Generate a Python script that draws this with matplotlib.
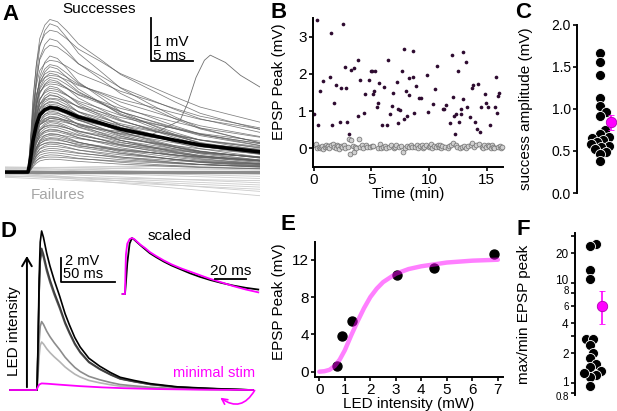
import numpy as np
import matplotlib
matplotlib.use("Agg")
import matplotlib.pyplot as plt
from matplotlib.ticker import FixedLocator, FixedFormatter, NullFormatter
from matplotlib.transforms import ScaledTranslation

# ── data ─────────────────────────────────────────────────────────────────────
# A: mean success trace (ms, mV), per-trace success amplitudes / decay, failure drifts
a_t    = [-2.7, 0.0, 0.3, 0.6, 1.0, 1.4, 2.0, 2.6, 3.5, 4.6, 6.0, 8.6, 11.0, 14.5, 17.5, 20.5, 24.0, 27.6]
a_mean = [0, 0, 0.3, 0.74, 1.1, 1.33, 1.45, 1.5, 1.48, 1.4, 1.28, 1.14, 1.0, 0.86, 0.74, 0.63, 0.55, 0.47]
a_amps = [3.55, 3.45, 3.3, 3.1, 2.95, 2.7, 2.6, 2.5, 2.45, 2.35, 2.3, 2.25, 2.2, 2.15, 2.1,
          2.05, 2.0, 1.95, 1.9, 1.85, 1.8, 1.78, 1.72, 1.7, 1.65, 1.62, 1.58, 1.55, 1.5, 1.48,
          1.45, 1.42, 1.38, 1.35, 1.3, 1.28, 1.25, 1.2, 1.18, 1.15, 1.1, 1.08, 1.05, 1.0, 0.98,
          0.95, 0.9, 0.88, 0.85, 0.8, 0.78, 0.75, 0.7, 0.68, 0.65, 0.6, 0.55, 0.5, 0.45, 0.4,
          0.35, 0.3]
a_decay = [1.1, 1.4, 0.9, 1.3, 1.0, 1.6, 0.8, 1.2, 1.5, 0.9, 1.3, 0.7, 1.1, 1.4, 1.0,
           0.8, 1.5, 1.2, 0.9, 1.3, 1.6, 1.0, 0.75, 1.2, 1.4, 0.9, 1.1, 1.5, 0.8, 1.3,
           1.0, 1.6, 0.85, 1.2, 1.4, 0.9, 1.1, 0.7, 1.3, 1.5, 1.0, 0.8, 1.2, 1.4, 0.9,
           1.1, 1.6, 0.8, 1.3, 1.0, 1.4, 0.9, 1.2, 0.75, 1.5, 1.0, 1.3, 0.9, 1.1, 1.4,
           0.8, 1.2]
a_extra_t = [-2.7, 0, 0.6, 1.4, 2.6, 4.6, 8.6, 14.5, 18.1, 19.0, 20.0, 21.0, 21.7, 23.5, 25.3, 27.6]
a_extra_v = [0, 0, 0.6, 1.1, 1.25, 1.2, 1.0, 0.85, 1.2, 1.6, 2.2, 2.6, 2.72, 2.55, 2.25, 1.98]
a_fail_start = [0.1, 0.05, -0.05, 0.0, -0.1, 0.08, -0.02, 0.12, -0.08, 0.03, -0.12, 0.06, 0.0, -0.04, 0.1]
a_fail_end   = [0.15, -0.1, -0.3, -0.45, -0.2, 0.2, -0.55, 0.05, -0.35, -0.15, -0.4, 0.1, -0.25, 0.25, -0.05]

# B: EPSP peaks over time
succ_t = [0.0, 0.3, 0.37, 0.55, 0.84, 1.38, 1.47, 1.61, 1.81, 1.9, 2.27, 2.38, 2.56, 2.76, 2.84,
          2.9, 3.04, 3.28, 3.53, 3.81, 3.82, 4.0, 4.33, 4.45, 4.77, 4.97, 5.1, 5.3, 5.12, 5.26,
          5.45, 5.54, 5.63, 5.92, 6.12, 6.4, 6.41, 6.6, 6.78, 6.87, 7.21, 7.27, 7.3, 7.5, 7.64,
          7.79, 7.87, 8.02, 8.07, 8.22, 8.3, 8.6, 8.65, 8.71, 8.88, 9.16, 9.28, 9.8, 9.89, 10.37,
          10.5, 10.66, 11.2, 11.3, 11.5, 11.83, 12.0, 12.1, 12.16, 12.24, 12.3, 12.5, 12.6, 12.76, 12.8,
          12.9, 12.96, 13.16, 13.3, 13.5, 13.68, 13.82, 13.97, 14.16, 14.2, 14.4, 14.46, 14.83, 14.9, 15.06,
          15.26, 15.7, 15.8, 15.86, 16.0, 16.06]
succ_v = [0.91, 3.44, 0.64, 1.54, 1.82, 1.91, 3.10, 0.62, 1.22, 1.71, 0.70, 1.62, 3.33, 2.19, 1.61,
          0.70, 0.38, 2.10, 2.16, 0.88, 2.36, 1.83, 0.96, 1.45, 1.83, 2.09, 2.09, 2.09, 1.47, 1.54,
          1.12, 1.22, 1.75, 0.62, 1.65, 0.62, 2.38, 0.93, 1.13, 1.49, 1.78, 1.07, 0.69, 1.04, 2.09,
          2.67, 0.80, 1.54, 0.87, 1.88, 1.42, 1.91, 2.62, 0.96, 1.67, 1.34, 1.34, 1.98, 0.97, 1.20,
          1.60, 2.20, 1.05, 1.06, 1.16, 0.69, 2.52, 1.37, 0.88, 0.39, 0.91, 2.09, 0.70, 1.07, 0.91,
          2.58, 1.33, 2.32, 1.11, 0.85, 1.63, 1.69, 0.70, 0.51, 1.74, 0.44, 1.11, 1.45, 1.21, 1.12,
          0.62, 1.12, 1.91, 0.94, 1.40, 1.49]
fail_t = [0.1, 0.2, 0.3, 0.45, 0.55, 0.65, 0.75, 0.85, 0.95, 1.05,
          1.15, 1.25, 1.35, 1.5, 1.7, 1.8, 1.9, 2.0, 2.1, 2.2,
          2.35, 2.45, 2.6, 2.7, 3.0, 3.1, 3.13, 3.2, 3.4, 3.53,
          3.6, 3.7, 3.94, 4.05, 4.15, 4.25, 4.55, 4.65, 4.9, 5.05,
          5.15, 5.6, 5.75, 5.85, 6.0, 6.2, 6.3, 6.5, 6.7, 6.95,
          7.05, 7.15, 7.4, 7.55, 7.73, 7.95, 8.1, 8.25, 8.4, 8.5,
          8.8, 8.95, 9.05, 9.2, 9.35, 9.45, 9.6, 9.7, 9.95, 10.05,
          10.15, 10.25, 10.45, 10.6, 10.75, 10.85, 10.95, 11.05, 11.15, 11.4,
          11.6, 11.7, 11.9, 12.05, 12.35, 12.45, 12.65, 12.85, 13.05, 13.2,
          13.4, 13.6, 13.75, 13.9, 14.05, 14.3, 14.55, 14.65, 14.75, 14.95,
          15.1, 15.2, 15.35, 15.45, 15.55, 15.65, 15.95, 16.1, 16.2, 16.35]
fail_v = [0.08, 0.12, 0.02, 0.05, 0.0, 0.03, 0.06, -0.02, 0.04, 0.1,
          0.05, 0.07, 0.0, 0.09, 0.12, 0.04, 0.02, 0.08, 0.06, -0.01,
          0.07, 0.03, 0.1, 0.0, 0.04, 0.26, -0.16, 0.22, 0.06, -0.1,
          0.05, 0.0, 0.26, 0.04, 0.08, 0.02, 0.1, 0.05, 0.03, 0.07,
          0.06, 0.02, 0.12, 0.0, 0.04, 0.07, 0.02, 0.05, 0.1, 0.0,
          0.04, 0.08, 0.03, 0.06, -0.1, 0.02, 0.07, 0.04, 0.1, 0.05,
          0.03, 0.08, 0.0, 0.06, 0.1, 0.02, 0.05, 0.09, 0.04, 0.07,
          0.12, 0.0, 0.06, 0.03, 0.08, 0.05, 0.1, 0.02, 0.07, 0.04,
          0.0, 0.06, 0.1, 0.15, 0.1, 0.05, 0.0, 0.04, 0.07, 0.02,
          0.06, 0.1, 0.14, 0.03, 0.08, 0.12, 0.05, 0.0, 0.08, 0.04,
          0.1, 0.06, 0.02, 0.08, 0.05, 0.0, 0.04, 0.07, 0.02, 0.03]

# C: success amplitude per cell, mean +- sem
c_vals = [1.67, 1.56, 1.41, 1.13, 1.03, 0.96, 0.92, 0.75, 0.70, 0.67, 0.66, 0.63,
          0.61, 0.58, 0.56, 0.55, 0.52, 0.49, 0.47, 0.38]
c_mean, c_sem = 0.84, 0.09

# D: evoked EPSPs at increasing LED intensity (ms, normalised), minimal stim (mV)
d_t     = [-25, 0, 1, 2, 3, 4.3, 6, 9, 12, 16, 21, 26, 30, 35, 40, 48, 58, 68, 77, 90, 105, 130, 160, 200]
d_shape = [0, 0, 0.3, 0.7, 0.93, 1.0, 0.96, 0.86, 0.78, 0.69, 0.59, 0.48, 0.41, 0.33, 0.27, 0.2,
           0.15, 0.11, 0.08, 0.06, 0.04, 0.02, 0.01, 0.0]
d_amps   = [4.0, 5.7, 11.5, 11.8, 13.25]
d_colors = ["#b4b4b4", "#8c8c8c", "#5a5a5a", "#3c3c3c", "#000000"]
d_min_t = [-25, -0.5, 0, 2, 4.3, 10, 20, 40, 60, 80, 110, 150, 200]
d_min_v = [0, 0, 0.1, 0.45, 0.55, 0.52, 0.45, 0.32, 0.22, 0.15, 0.08, 0.03, 0.0]
# D inset: peak-scaled traces
ins_t   = [-1.5, 0, 0.6, 1.5, 3, 4.5, 6, 8, 10, 13, 16, 20, 25, 30, 36, 42, 48, 55, 62, 70, 78, 86]
ins_blk = [0, 0, 0.2, 0.55, 0.9, 1.0, 0.97, 0.92, 0.87, 0.8, 0.73, 0.66, 0.58, 0.51, 0.44, 0.37,
           0.31, 0.25, 0.2, 0.15, 0.11, 0.08]
ins_mag = [0, 0, 0.7, 0.9, 0.98, 1.0, 0.98, 0.93, 0.88, 0.82, 0.75, 0.68, 0.6, 0.53, 0.46, 0.4,
           0.34, 0.27, 0.21, 0.14, 0.08, 0.03]

# E: input-output curve
e_led  = [0.68, 0.88, 1.27, 3.04, 4.51, 6.85]
e_peak = [0.61, 3.83, 5.48, 10.35, 11.1, 12.64]
e_fit_x = [0, 0.2, 0.4, 0.6, 0.8, 1.0, 1.25, 1.5, 1.75, 2.0, 2.25, 2.5, 3.0, 3.5, 4.0, 5.0, 6.0, 7.0]
e_fit_y = [0.0, 0.05, 0.2, 0.6, 1.3, 2.3, 3.9, 5.4, 6.8, 8.0, 8.9, 9.6, 10.5, 11.0, 11.3, 11.7, 11.9, 12.0]

# F: max/min EPSP peak ratio per cell
f_vals = [24.6, 23.5, 13.6, 11.0, 2.8, 2.75, 2.4, 2.01, 1.77, 1.55, 1.46, 1.33, 1.2, 1.16, 1.25, 0.93]
f_mean, f_lo, f_hi = 6.0, 3.9, 8.4
f_ticks  = [0.8, 1, 2, 4, 6, 8, 10, 20]
f_labels = ["0.8", "1", "2", "4", "6", "8", "10", "20"]

MAG = "#ff00ff"
W, H = 617, 411
plt.rcParams['font.family'] = ['Liberation Sans', 'DejaVu Sans']
fig = plt.figure(figsize=(W / 100, H / 100), dpi=100)


def px_axes(l, t, r, b):
    return fig.add_axes([l / W, 1 - b / H, (r - l) / W, (b - t) / H])


def px_text(x, y, s, **kw):
    fig.text(x / W, 1 - y / H, s, **kw)


def style(ax, fs):
    for side in ("top", "right"):
        ax.spines[side].set_visible(False)
    for side in ("left", "bottom"):
        ax.spines[side].set_linewidth(1.4)
    ax.tick_params(direction="out", length=3, width=1.2, labelsize=fs, pad=1.5)


def swarm(ax, vals, center, diam):
    # greedy beeswarm in display pixels; x axis is set up in pixel units
    ys = ax.transData.transform(np.column_stack([np.full(len(vals), center), vals]))[:, 1]
    offs = np.zeros(len(vals))
    placed = []
    for i in np.argsort(ys):
        y = ys[i]
        cands = [0.0]
        for px, py in placed:
            dy = abs(y - py)
            if dy < diam:
                dx = np.sqrt(diam ** 2 - dy ** 2)
                cands += [px + dx, px - dx]
        cands.sort(key=abs)
        for c in cands:
            if all((c - px) ** 2 + (y - py) ** 2 >= diam ** 2 - 1e-6 for px, py in placed):
                offs[i] = c
                placed.append((c, y))
                break
    return center + offs


# ── A ────────────────────────────────────────────────────────────────────────
axA = px_axes(5, 10, 260, 200)
axA.set_xlim(-2.74, 27.62)
axA.set_ylim(-0.65, 3.77)
axA.axis("off")
for s, e in zip(a_fail_start, a_fail_end):
    axA.plot([a_t[0], a_t[-1]], [s, e], color="#cccccc", lw=0.6)
shape = np.array(a_mean) / max(a_mean)
for amp, k in zip(a_amps, a_decay):
    axA.plot(a_t, amp * shape ** k, color="#5e5e5e", lw=0.55, alpha=0.8)
axA.plot(a_extra_t, a_extra_v, color="#707070", lw=0.6)
axA.plot([a_t[0], a_t[-1]], [0, 0], color="#8c8c8c", lw=2.4)
axA.plot(a_t, a_mean, color="k", lw=2.6)
axA.plot([14.64, 14.64, 19.64], [3.58, 2.58, 2.58], color="k", lw=1.3)
axA.text(14.9, 3.03, "1 mV", fontsize=11, va="center")
axA.text(14.9, 2.71, "5 ms", fontsize=11, va="center")
px_text(62, 9, "Successes", fontsize=11, va="center")
px_text(31, 195, "Failures", fontsize=11, va="center", color="#a6a6a6")

# ── B ────────────────────────────────────────────────────────────────────────
axB = px_axes(313, 18, 503, 167)
axB.scatter(fail_t, fail_v, s=12, facecolor="#d0d0d0", edgecolor="#6e6e6e", lw=0.5, clip_on=False)
axB.scatter(succ_t, succ_v, s=7, color="#2e0b30", lw=0, clip_on=False)
axB.set_xlim(-0.05, 16.4)
axB.set_ylim(-0.5, 3.5)
axB.set_xticks([0, 5, 10, 15])
axB.set_yticks([0, 1, 2, 3])
style(axB, 11)
axB.set_xlabel("Time (min)", fontsize=11, labelpad=0)
axB.set_ylabel("EPSP Peak (mV)", fontsize=11, labelpad=2)
axB.yaxis.set_label_coords(-0.14, 0.57)

# ── C ────────────────────────────────────────────────────────────────────────
axC = px_axes(577, 25, 617, 193)
axC.set_xlim(0, 40)
axC.set_ylim(0, 2.0)
axC.scatter(swarm(axC, c_vals, 23, 6.5), c_vals, s=52, color="k", edgecolor="white", lw=0.6,
            zorder=3, clip_on=False)
axC.errorbar([34], [c_mean], yerr=c_sem, fmt="o", color=MAG, ms=7.5, mec="#b000b0", mew=0.6,
             capsize=2, elinewidth=1.2, zorder=4, clip_on=False)
style(axC, 10)
axC.spines["bottom"].set_visible(False)
axC.set_xticks([])
axC.set_yticks([0, 0.5, 1.0, 1.5, 2.0])
axC.set_yticklabels(["0.0", "0.5", "1.0", "1.5", "2.0"])
axC.set_ylabel("success amplitude (mV)", fontsize=11)
axC.yaxis.set_label_coords(-1.1, 0.5)

# ── D ────────────────────────────────────────────────────────────────────────
axD = px_axes(5, 222, 262, 408)
axD.set_xlim(-29.6, 208.3)
axD.set_ylim(-1.5, 14.0)
axD.axis("off")
for amp, col in zip(d_amps, d_colors):
    axD.plot(d_t, amp * np.array(d_shape), color=col, lw=1.2)
axD.plot(d_min_t, d_min_v, color=MAG, lw=1.3)
axD.plot([22.2, 22.2, 72.2], [10.96, 8.96, 8.96], color="k", lw=1.3)
axD.text(25.5, 10.75, "2 mV", fontsize=10.5, va="center")
axD.text(24.5, 9.65, "50 ms", fontsize=10.5, va="center")
axD.annotate("", xy=(-9.3, 11.4), xytext=(-9.3, 0.0),
             arrowprops=dict(arrowstyle="->,head_width=0.35,head_length=0.6", lw=1.4, color="k"))
px_text(14, 331, "LED intensity", fontsize=11, rotation=90, ha="center", va="center")
px_text(173, 373, "minimal stim", fontsize=10.5, color=MAG, va="center")
axD.annotate("", xy=(218, 15), xytext=(256, 23), xycoords="figure pixels",
             arrowprops=dict(arrowstyle="->", color=MAG, lw=1.2, connectionstyle="arc3,rad=-0.6"),
             annotation_clip=False)

axI = px_axes(120, 230, 262, 300)
axI.set_xlim(-3.2, 88.4)
axI.set_ylim(-0.107, 1.143)
axI.axis("off")
axI.plot(ins_t, ins_blk, color="k", lw=1.3)
axI.plot(ins_t, ins_mag, color=MAG, lw=1.3)
axI.plot([58, 78], [0.268, 0.268], color="k", lw=1.3)
axI.text(68, 0.29, "20 ms", fontsize=11, ha="center", va="bottom")
axI.text(14.5, 1.04, "scaled", fontsize=11, va="center")

# ── E ────────────────────────────────────────────────────────────────────────
axE = px_axes(315, 242, 503, 377)
axE.set_xlim(-0.17, 7.2)
axE.set_ylim(-0.57, 13.9)
axE.scatter(e_led, e_peak, s=42, color="k", zorder=2)
axE.plot(e_fit_x, e_fit_y, color=MAG, lw=3.2, alpha=0.5, zorder=3, solid_capstyle="round")
axE.set_xticks(range(8))
axE.set_yticks([0, 4, 8, 12])
style(axE, 11)
axE.set_xlabel("LED intensity (mW)", fontsize=11, labelpad=0)
axE.set_ylabel("EPSP Peak (mV)", fontsize=11, labelpad=2)
axE.yaxis.set_label_coords(-0.155, 0.556)

# ── F ────────────────────────────────────────────────────────────────────────
axF = px_axes(575, 233, 617, 395)
axF.set_yscale("log")
axF.set_xlim(0, 42)
axF.set_ylim(0.76, 32)
axF.scatter(swarm(axF, f_vals, 15, 6.5), f_vals, s=52, color="k", edgecolor="white", lw=0.6,
            zorder=3, clip_on=False)
axF.errorbar([26.7], [f_mean], yerr=[[f_mean - f_lo], [f_hi - f_mean]], fmt="o", color=MAG, ms=7.5,
             mec="#b000b0", mew=0.6, capsize=2, elinewidth=1.2, zorder=4, clip_on=False)
style(axF, 8.5)
axF.spines["bottom"].set_visible(False)
axF.set_xticks([])
axF.yaxis.set_major_locator(FixedLocator(f_ticks))
axF.yaxis.set_major_formatter(FixedFormatter(f_labels))
axF.yaxis.set_minor_locator(FixedLocator([3, 30]))
axF.yaxis.set_minor_formatter(NullFormatter())
axF.tick_params(which="minor", length=3, width=1.2)
# the crowded small labels: shrink and nudge apart
fig.canvas.draw()
for tick in axF.yaxis.get_major_ticks():
    lbl = tick.label1
    nudge = {"0.8": -2.5, "1": 1.5, "8": 2.0, "10": 3.0, "6": -0.5}.get(lbl.get_text())
    if nudge is not None:
        if lbl.get_text() in ("0.8", "6", "8"):
            lbl.set_fontsize(7)
        lbl.set_transform(lbl.get_transform() + ScaledTranslation(0, nudge / 72, fig.dpi_scale_trans))
axF.set_ylabel("max/min EPSP peak", fontsize=11)
axF.yaxis.set_label_coords(-1.05, 0.5)

# ── panel letters ────────────────────────────────────────────────────────────
for x, y, s in [(2, 4, "A"), (270, 2, "B"), (515, 2, "C"), (0, 221, "D"), (280, 214, "E"), (517, 219, "F")]:
    px_text(x, y, s, fontsize=16, fontweight="bold", va="top")

fig.savefig("out.png", dpi=100)
